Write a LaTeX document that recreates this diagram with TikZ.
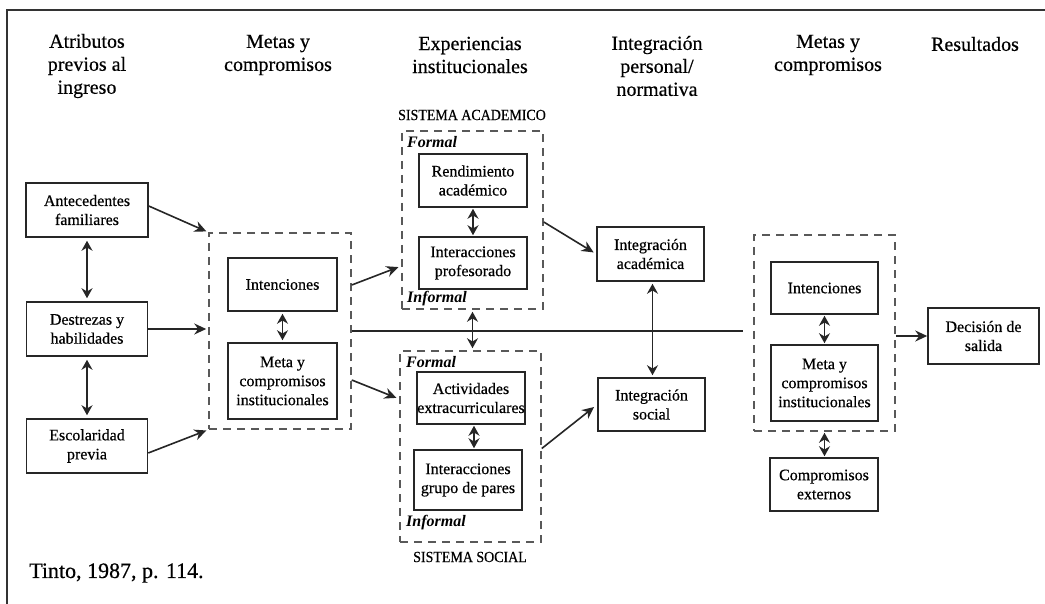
\documentclass[tikz,border=0pt]{standalone}
\usepackage{fontspec}
\setmainfont{Liberation Serif}[UprightFeatures={FakeBold=0.5}]
\usetikzlibrary{arrows.meta}
\tikzset{
  box/.style={draw=black!85, line width=1.5pt, align=center, inner sep=0pt,
    font=\fontsize{16}{19}\selectfont},
  dbox/.style={draw=black!65, line width=1.5pt, dash pattern=on 8pt off 6pt, inner sep=0pt},
  hdr/.style={align=center, inner sep=0pt, font=\fontsize{20}{23}\selectfont},
  lab/.style={inner sep=0pt, font=\fontsize{16}{19}\selectfont\bfseries\itshape},
  sys/.style={inner sep=0pt, font=\fontsize{15.5}{18}\selectfont},
  arr/.style={draw=black!85, line width=1.6pt, -{Stealth[length=12pt,width=11pt]}},
  dbl/.style={draw=black!85, line width=1.5pt, {Stealth[length=10pt,width=11pt]}-{Stealth[length=10pt,width=11pt]}},
  plain/.style={draw=black!85, line width=1.5pt},
}
\begin{document}
\begin{tikzpicture}[x=1pt,y=-1pt]
\useasboundingbox (0,0) rectangle (1045,604);
% frame (top and left edges)
\draw[draw=black!80, line width=2.5pt] (7,604) -- (7,10) -- (1045,10);

% headers
\node[hdr] (h1) at (87,66) {Atributos\\previos al\\ingreso};
\node[hdr] (h2) at (278,55) {Metas y\\compromisos};
\node[hdr] (h3) at (470,55) {Experiencias\\institucionales};
\node[hdr] (h4) at (657,66) {Integración\\personal/\\normativa};
\node[hdr] (h5) at (828,55) {Metas y\\compromisos};
\node[hdr] (h6) at (975,44) {Resultados};

% column 1
\node[box, minimum width=122pt, minimum height=54pt] (ant) at (87,210) {Antecedentes\\familiares};
\node[box, minimum width=121pt, minimum height=54pt] (des) at (87,329) {Destrezas y\\habilidades};
\node[box, minimum width=121pt, minimum height=54pt] (esc) at (87,446) {Escolaridad\\previa};

% column 2
\node[dbox, minimum width=142pt, minimum height=196pt] (ldash) at (280,331) {};
\node[box, minimum width=109pt, minimum height=53pt] (int1) at (282.5,284.5) {Intenciones};
\node[box, minimum width=109pt, minimum height=76pt] (meta1) at (282.5,381) {Meta y\\compromisos\\institucionales};

% column 3: academic system
\node[sys] (sa) at (472,115) {\scalebox{0.9}[1]{SISTEMA ACADEMICO}};
\node[dbox, minimum width=141pt, minimum height=178pt] (acad) at (472.5,220) {};
\node[lab, anchor=west] (f1) at (407,142) {Formal};
\node[box, minimum width=108pt, minimum height=53pt] (rend) at (473,180.5) {Rendimiento\\académico};
\node[box, minimum width=108pt, minimum height=52pt] (intp) at (473,263) {Interacciones\\profesorado};
\node[lab, anchor=west] (i1) at (407,299) {Informal};

% column 3: social system
\node[dbox, minimum width=141pt, minimum height=191pt] (soc) at (470.5,446.5) {};
\node[lab, anchor=west] (f2) at (406,362) {Formal};
\node[box, minimum width=108pt, minimum height=52pt] (act) at (471,398) {Actividades\\extracurriculares};
\node[box, minimum width=108pt, minimum height=60pt] (igp) at (468,480) {Interacciones\\grupo de pares};
\node[lab, anchor=west] (i2) at (406,523) {Informal};
\node[sys] (ss) at (470,557) {\scalebox{0.9}[1]{SISTEMA SOCIAL}};

% column 4
\node[box, minimum width=107pt, minimum height=54pt] (ia) at (650.5,254) {Integración\\académica};
\node[box, minimum width=107pt, minimum height=53pt] (is) at (651.5,404.5) {Integración\\social};

% column 5
\node[dbox, minimum width=141pt, minimum height=196pt] (rdash) at (824.5,333) {};
\node[box, minimum width=107pt, minimum height=52pt] (int2) at (824.5,288) {Intenciones};
\node[box, minimum width=107pt, minimum height=76pt] (meta2) at (824.5,383) {Meta y\\compromisos\\institucionales};
\node[box, minimum width=108pt, minimum height=53pt] (ext) at (824,484.5) {Compromisos\\externos};

% column 6
\node[box, minimum width=111pt, minimum height=56pt] (dec) at (983.5,336) {Decisión de\\salida};

% source
\node[anchor=west, inner sep=0pt, font=\fontsize{22}{26}\selectfont] (src) at (29,573) {Tinto, 1987, p. 114.};

\coordinate (hlend) at (743,331);

% connectors
\draw[arr, shorten >=2pt] ([yshift=4pt]ant.east) -- (ldash.north west);
\draw[arr, shorten >=2pt] (des.east) -- (des.east -| ldash.west);
\draw[arr, shorten >=2pt] ([yshift=-7pt]esc.east) -- (ldash.south west);
\draw[dbl, shorten <=3pt, shorten >=3pt] (ant.south) -- (des.north);
\draw[dbl, shorten <=3pt, shorten >=3pt] (des.south) -- (esc.north);
\draw[dbl, shorten <=2pt, shorten >=2pt] (int1.south) -- (meta1.north);

\draw[arr, shorten >=3pt] ([yshift=46pt]ldash.east) -- ([yshift=-46pt]acad.west);
\draw[arr, shorten >=3pt] ([yshift=-49pt]ldash.east) -- ([yshift=47.5pt]soc.west);
\draw[plain] (ldash.east) -- (hlend);

\draw[dbl, shorten <=1pt, shorten >=1pt] (rend.south) -- (intp.north);
\draw[dbl, shorten <=2pt, shorten >=2pt] (acad.south) -- (acad.south |- soc.north);
\draw[dbl, shorten <=1pt, shorten >=1pt] ([xshift=3pt]act.south) -- ([xshift=3pt]act.south |- igp.north);

\draw[arr, shorten >=3pt] ([yshift=-2pt]acad.east) -- (ia.west);
\draw[arr, shorten >=4pt] ([yshift=-2pt]soc.east) -- (is.west);
\draw[dbl, shorten <=2pt, shorten >=2pt] ([xshift=2pt]ia.south) -- ([xshift=2pt]ia.south |- is.north);

\draw[dbl, shorten <=1pt, shorten >=1pt] (int2.south) -- (meta2.north);
\draw[dbl, shorten <=1pt, shorten >=1pt] (rdash.south) -- (rdash.south |- ext.north);
\draw[arr] (rdash.east |- dec.west) -- (dec.west);
\end{tikzpicture}
\end{document}
